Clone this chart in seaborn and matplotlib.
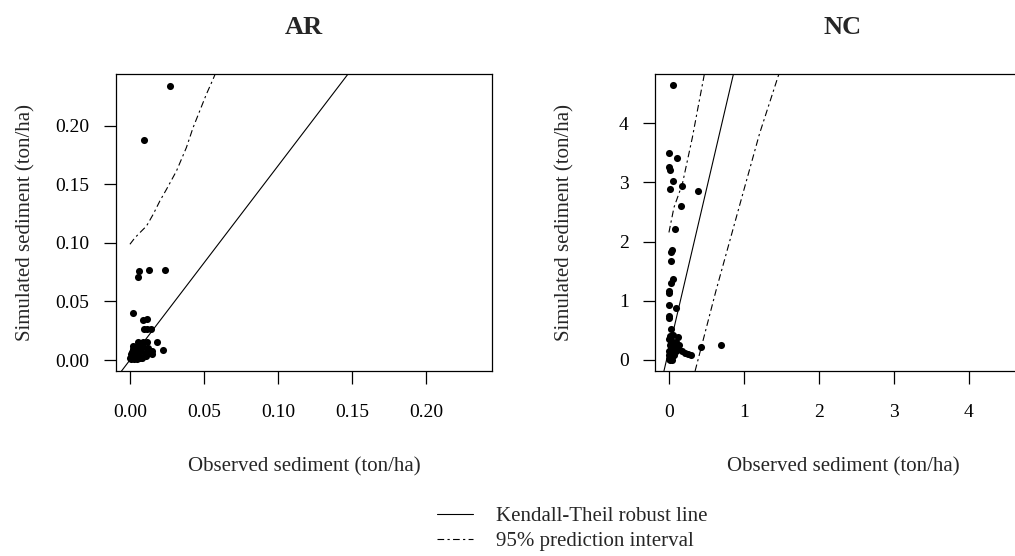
import matplotlib
matplotlib.use("Agg")
import matplotlib.pyplot as plt
import seaborn as sns
from matplotlib.lines import Line2D

# ---------------- AR site ----------------
ar_observed = [0.0271, 0.0094, 0.0061, 0.0052, 0.0128, 0.0240, 0.0022, 0.0085,
               0.0112, 0.0094, 0.0117, 0.0139, 0.0056, 0.0090, 0.0112, 0.0186,
               0.0224, 0.0146, 0.0146, 0.0135, 0.0000, 0.0010, 0.0020, 0.0030,
               0.0040, 0.0050, 0.0060, 0.0070, 0.0080, 0.0090, 0.0100, 0.0110,
               0.0020, 0.0040, 0.0060, 0.0010, 0.0030, 0.0070, 0.0120, 0.0080,
               0.0015, 0.0045]
ar_simulated = [0.2345, 0.1880, 0.0761, 0.0709, 0.0766, 0.0766, 0.0399, 0.0340,
                0.0348, 0.0262, 0.0262, 0.0262, 0.0154, 0.0154, 0.0154, 0.0154,
                0.0088, 0.0049, 0.0077, 0.0065, 0.0020, 0.0050, 0.0090, 0.0030,
                0.0060, 0.0010, 0.0040, 0.0080, 0.0020, 0.0110, 0.0060, 0.0030,
                0.0120, 0.0100, 0.0120, 0.0010, 0.0005, 0.0015, 0.0100, 0.0130,
                0.0070, 0.0035]
ar_kt_slope = 1.66
ar_kt_intercept = 0.0
ar_pi_upper_x = [0.0000, 0.0034, 0.0067, 0.0112, 0.0157, 0.0202, 0.0247,
                 0.0314, 0.0381, 0.0426, 0.0471, 0.0516, 0.0561, 0.0600]
ar_pi_upper_y = [0.0989, 0.1045, 0.1088, 0.1145, 0.1245, 0.1359, 0.1459,
                 0.1615, 0.1815, 0.1985, 0.2128, 0.2271, 0.2399, 0.2520]
ar_ticks = [0.00, 0.05, 0.10, 0.15, 0.20]
ar_tick_labels = ["0.00", "0.05", "0.10", "0.15", "0.20"]

# ---------------- NC site ----------------
nc_observed = [0.054, 0.000, 0.103, 0.000, 0.010, 0.054, 0.010, 0.179, 0.389,
               0.165, 0.076, 0.045, 0.022, 0.031, 0.054, 0.031, 0.000, 0.000,
               0.000, 0.098, 0.000, 0.000, 0.022, 0.425, 0.694,
               0.000, 0.010, 0.020, 0.000, 0.030, 0.010, 0.050, 0.000, 0.020,
               0.060, 0.080, 0.100, 0.040, 0.070, 0.120, 0.140, 0.000, 0.030,
               0.090, 0.050, 0.125, 0.180, 0.220, 0.260, 0.290, 0.010, 0.040]
nc_simulated = [4.648, 3.500, 3.413, 3.254, 3.215, 3.029, 2.888, 2.944, 2.860,
                2.606, 2.211, 1.856, 1.816, 1.675, 1.365, 1.308, 1.168, 1.128,
                0.925, 0.885, 0.745, 0.705, 0.520, 0.220, 0.254,
                0.020, 0.050, 0.100, 0.150, 0.200, 0.250, 0.300, 0.350, 0.400,
                0.120, 0.220, 0.300, 0.050, 0.080, 0.180, 0.250, 0.080, 0.280,
                0.150, 0.420, 0.390, 0.150, 0.120, 0.100, 0.085, 0.000, 0.000]
nc_kt_slope = 5.41
nc_kt_intercept = 0.175
nc_pi_upper_x = [0.000, 0.067, 0.179, 0.313, 0.380, 0.461, 0.490]
nc_pi_upper_y = [2.154, 2.577, 2.973, 3.761, 4.213, 4.750, 4.950]
nc_pi_lower_x = [0.349, 0.627, 0.984, 1.208, 1.454, 1.480]
nc_pi_lower_y = [-0.186, 1.168, 2.800, 3.820, 4.780, 4.880]
nc_ticks = [0, 1, 2, 3, 4]
nc_tick_labels = ["0", "1", "2", "3", "4"]

x_label = "Observed sediment (ton/ha)"
y_label = "Simulated sediment (ton/ha)"
legend_labels = ["Kendall-Theil robust line", "95% prediction interval"]

sns.set_style("ticks")
plt.rcParams["font.family"] = ["Liberation Serif", "DejaVu Serif"]
plt.rcParams["axes.linewidth"] = 0.9

PI_STYLE = (0, (6, 3, 2, 3))
LW = 0.8

fig = plt.figure(figsize=(10.15, 5.56), dpi=100)
fig.patch.set_facecolor("white")

ax_ar = fig.add_axes([0.11429, 0.33273, 0.37044, 0.53417])
ax_nc = fig.add_axes([0.64532, 0.33273, 0.37044, 0.53417])


def draw_panel(ax, obs, sim, slope, intercept, pi_curves, lims, ticks, tick_labels, title):
    ax.set_facecolor("white")
    ax.set_xlim(*lims)
    ax.set_ylim(*lims)
    sns.scatterplot(x=obs, y=sim, ax=ax, color="black", s=26, linewidth=0,
                    zorder=3, legend=False)
    ax.axline((0, intercept), slope=slope, color="black", lw=LW, zorder=2)
    for cx, cy in pi_curves:
        sns.lineplot(x=cx, y=cy, ax=ax, sort=False, estimator=None,
                     color="black", lw=LW, linestyle=PI_STYLE, zorder=2)
    ax.set_xticks(ticks)
    ax.set_xticklabels(tick_labels)
    ax.set_yticks(ticks)
    ax.set_yticklabels(tick_labels)
    ax.tick_params(axis="both", direction="out", length=9, width=0.9,
                   labelsize=14, colors="black")
    ax.tick_params(axis="x", pad=15)
    ax.tick_params(axis="y", pad=10)
    for sp in ax.spines.values():
        sp.set_visible(True)
        sp.set_color("black")
        sp.set_linewidth(0.9)
    ax.set_xlabel(x_label, fontsize=15)
    ax.set_ylabel(y_label, fontsize=15)
    ax.xaxis.set_label_coords(0.5, -0.322)
    ax.xaxis.label.set_va("center")
    ax.yaxis.set_label_coords(-0.24, 0.5)
    ax.yaxis.label.set_va("center")
    ax.text(0.5, 1.155, title, transform=ax.transAxes, ha="center", va="center",
            fontsize=19, fontweight="bold")


draw_panel(ax_ar, ar_observed, ar_simulated, ar_kt_slope, ar_kt_intercept,
           [(ar_pi_upper_x, ar_pi_upper_y)], (-0.0094, 0.2444),
           ar_ticks, ar_tick_labels, "AR")
draw_panel(ax_nc, nc_observed, nc_simulated, nc_kt_slope, nc_kt_intercept,
           [(nc_pi_upper_x, nc_pi_upper_y), (nc_pi_lower_x, nc_pi_lower_y)],
           (-0.186, 4.83), nc_ticks, nc_tick_labels, "NC")

handles = [Line2D([], [], color="black", lw=LW),
           Line2D([], [], color="black", lw=LW, linestyle=PI_STYLE)]
fig.legend(handles, legend_labels, loc="upper left",
           bbox_to_anchor=(0.4302, 0.089), frameon=False, fontsize=15,
           borderpad=0, borderaxespad=0, handlelength=1.76,
           handletextpad=1.09, labelspacing=0.25)

fig.savefig("out.png", dpi=100, facecolor="white")
